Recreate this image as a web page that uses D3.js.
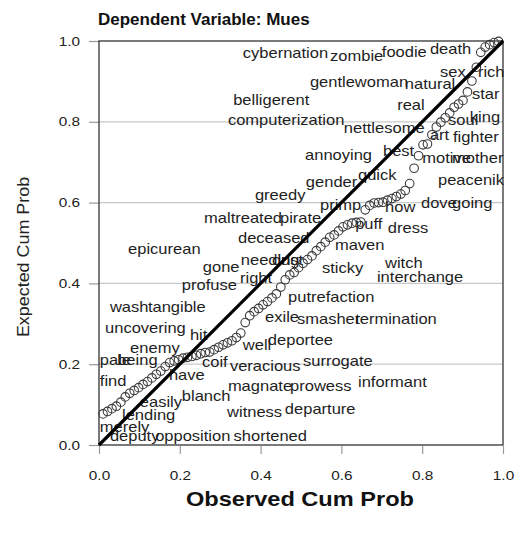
<!DOCTYPE html>
<html><head><meta charset="utf-8">
<script src="https://cdn.jsdelivr.net/npm/d3@7"></script>
<style>body{margin:0;background:#fff}svg{display:block}text{font-family:"Liberation Sans",Arial,sans-serif}</style>
</head><body>
<script>
const title = "Dependent Variable: Mues";
const xTitle = "Observed Cum Prob";
const yTitle = "Expected Cum Prob";
const tickValues = [0, 0.2, 0.4, 0.6, 0.8, 1.0];
const gridValues = [0.2, 0.4, 0.6, 0.8];

const observed = [0.010,0.021,0.032,0.043,0.054,0.065,0.076,0.087,0.098,0.109,0.120,0.131,0.142,0.153,0.164,0.175,0.186,0.197,0.208,0.219,0.230,0.241,0.252,0.263,0.274,0.285,0.296,0.307,0.318,0.329,0.340,0.351,0.362,0.373,0.384,0.395,0.406,0.417,0.428,0.439,0.450,0.461,0.472,0.483,0.494,0.505,0.516,0.527,0.538,0.549,0.560,0.571,0.582,0.593,0.604,0.615,0.626,0.637,0.648,0.659,0.670,0.681,0.692,0.703,0.714,0.725,0.736,0.747,0.758,0.769,0.780,0.791,0.802,0.813,0.824,0.835,0.846,0.857,0.868,0.879,0.890,0.901,0.912,0.923,0.934,0.945,0.956,0.967,0.978,0.989];
const expected = [0.077,0.083,0.090,0.096,0.106,0.119,0.128,0.135,0.142,0.150,0.157,0.166,0.175,0.183,0.194,0.204,0.208,0.211,0.215,0.217,0.219,0.222,0.226,0.229,0.230,0.236,0.242,0.248,0.253,0.258,0.266,0.277,0.303,0.320,0.330,0.338,0.347,0.355,0.364,0.374,0.391,0.409,0.421,0.427,0.439,0.450,0.459,0.468,0.481,0.491,0.502,0.514,0.520,0.530,0.540,0.545,0.549,0.551,0.552,0.582,0.593,0.599,0.600,0.601,0.606,0.610,0.615,0.621,0.630,0.647,0.685,0.716,0.743,0.745,0.768,0.787,0.799,0.810,0.822,0.836,0.844,0.853,0.874,0.901,0.935,0.972,0.985,0.991,0.996,0.999];

const labelWords = ["cybernation","zombie","foodie","death","sex","rich","gentlewoman","natural","belligerent","star","real","computerization","soul","king","nettlesome","art","fighter","annoying","best","motive","mother","quick","gender","peacenik","greedy","primp","how","dove","going","maltreated","pirate","puff","dress","deceased","epicurean","maven","needing","dust","witch","gone","sticky","right","profuse","interchange","putrefaction","wash","tangible","exile","smasher","termination","uncovering","hit","well","deportee","enemy","pale","being","coif","veracious","surrogate","have","find","magnate","prowess","informant","blanch","easily","witness","departure","lending","merely","deputy","opposition","shortened"];
const labelX = [0.356,0.572,0.700,0.819,0.844,0.938,0.522,0.757,0.332,0.923,0.738,0.319,0.864,0.918,0.606,0.819,0.876,0.510,0.703,0.800,0.874,0.641,0.512,0.839,0.386,0.547,0.708,0.797,0.874,0.260,0.448,0.634,0.715,0.344,0.072,0.584,0.351,0.428,0.708,0.257,0.552,0.349,0.205,0.688,0.468,0.027,0.121,0.411,0.490,0.634,0.015,0.225,0.356,0.418,0.077,0.002,0.045,0.255,0.324,0.505,0.173,0.002,0.319,0.473,0.641,0.205,0.101,0.317,0.460,0.057,0.002,0.027,0.139,0.333];
const labelY = [0.958,0.950,0.960,0.968,0.911,0.911,0.886,0.881,0.842,0.856,0.829,0.792,0.792,0.800,0.772,0.755,0.750,0.705,0.715,0.698,0.698,0.656,0.639,0.644,0.606,0.582,0.577,0.587,0.587,0.550,0.550,0.535,0.525,0.500,0.473,0.483,0.446,0.446,0.438,0.428,0.426,0.401,0.384,0.403,0.354,0.329,0.329,0.304,0.300,0.300,0.277,0.260,0.235,0.248,0.228,0.198,0.198,0.193,0.183,0.196,0.161,0.146,0.134,0.134,0.144,0.109,0.094,0.069,0.077,0.062,0.032,0.010,0.010,0.010];

const W = 515, H = 533;
const SX = 1.18; // horizontal glyph stretch seen in the reference
const svg = d3.select("body").append("svg").attr("width", W).attr("height", H);
const x = d3.scaleLinear().domain([0, 1]).range([99, 503]);
const y = d3.scaleLinear().domain([0, 1]).range([445, 41]);

// gridlines
svg.append("g").selectAll("line").data(gridValues).join("line")
  .attr("x1", x(0)).attr("x2", x(1)).attr("y1", d => y(d)).attr("y2", d => y(d))
  .attr("stroke", "#c8c8c8").attr("stroke-width", 1.2);

// axes
const yAxis = svg.append("g").attr("transform", `translate(${x(0)},0)`)
  .call(d3.axisLeft(y).tickValues(tickValues).tickFormat(d3.format(".1f")).tickSize(10).tickPadding(9));
const xAxis = svg.append("g").attr("transform", `translate(0,${y(0)+1})`)
  .call(d3.axisBottom(x).tickValues(tickValues).tickFormat(d3.format(".1f")).tickSize(8).tickPadding(16));
[yAxis, xAxis].forEach(a => {
  a.select(".domain").remove();
  a.selectAll(".tick line").attr("stroke", "#999").attr("stroke-width", 1.2);
});
yAxis.selectAll(".tick text").each(function() {
  const t = d3.select(this);
  const tx = +t.attr("x"); const dy = t.attr("dy");
  t.attr("x", null).attr("transform", `translate(${tx},0) scale(${SX},1)`).attr("dy", dy)
   .attr("fill", "#222").style("font-size", "13px").style("font-family", "Liberation Sans, Arial, sans-serif");
});
xAxis.selectAll(".tick text").each(function() {
  const t = d3.select(this);
  const ty = +t.attr("y");
  t.attr("y", null).attr("transform", `translate(0,${ty + 1}) scale(${SX},1)`)
   .attr("fill", "#222").style("font-size", "13px").style("font-family", "Liberation Sans, Arial, sans-serif");
});

// frame
svg.append("rect").attr("x", x(0)).attr("y", y(1)).attr("width", x(1) - x(0)).attr("height", y(0) - y(1))
  .attr("fill", "none").attr("stroke", "#333").attr("stroke-width", 1.3);

// labels
svg.append("g").selectAll("text").data(labelWords).join("text")
  .attr("transform", (d, i) => `translate(${x(labelX[i])},${y(labelY[i])}) scale(${SX},1)`)
  .attr("fill", "#1e1e1e").style("font-size", "14px").text(d => d);

// points
svg.append("g").selectAll("circle").data(observed).join("circle")
  .attr("cx", d => x(d)).attr("cy", (d, i) => y(expected[i])).attr("r", 4.3)
  .attr("fill", "none").attr("stroke", "#3a3a3a").attr("stroke-width", 1.1);

// reference line
svg.append("line").attr("x1", x(0)).attr("y1", y(0)).attr("x2", x(1)).attr("y2", y(1))
  .attr("stroke", "#000").attr("stroke-width", 3.2);

// titles
svg.append("text").attr("transform", `translate(98,25)`).attr("font-weight", "bold").style("font-size", "17px")
  .attr("fill", "#111").text(title);
svg.append("text").attr("transform", `translate(${(x(0) + x(1)) / 2 - 1},506) scale(${SX},1)`).attr("text-anchor", "middle")
  .attr("font-weight", "bold").style("font-size", "20px").attr("fill", "#111").text(xTitle);
svg.append("text").attr("transform", `translate(29,257) rotate(-90) scale(1.12,1)`).attr("text-anchor", "middle")
  .style("font-size", "16px").attr("fill", "#222").text(yTitle);
</script>
</body></html>
